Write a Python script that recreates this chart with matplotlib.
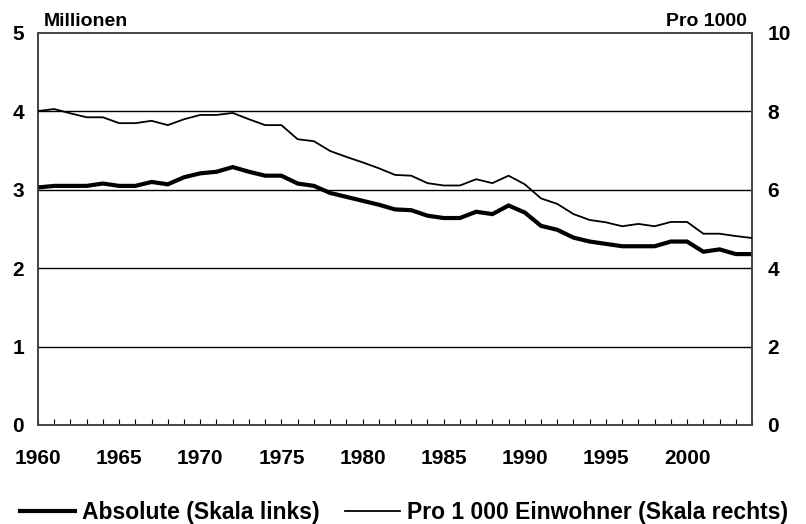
import numpy as np
import matplotlib
matplotlib.use('Agg')
import matplotlib.pyplot as plt

plt.rcParams['font.family'] = ['Liberation Sans', 'DejaVu Sans']
plt.rcParams['font.weight'] = 'bold'

years = list(range(1960, 2005))

# Absolute (Millionen, left scale)
absolute = [3.03, 3.05, 3.05, 3.05, 3.08, 3.05, 3.05, 3.10, 3.07, 3.16,
            3.21, 3.23, 3.29, 3.23, 3.18, 3.18, 3.08, 3.05, 2.96, 2.91,
            2.86, 2.81, 2.75, 2.74, 2.67, 2.64, 2.64, 2.72, 2.69, 2.80,
            2.71, 2.54, 2.49, 2.39, 2.34, 2.31, 2.28, 2.28, 2.28, 2.34,
            2.34, 2.21, 2.24, 2.18, 2.18]

# Pro 1000 Einwohner (right scale)
per_1000 = [8.01, 8.06, 7.95, 7.85, 7.85, 7.70, 7.70, 7.76, 7.65, 7.80,
            7.91, 7.91, 7.96, 7.80, 7.65, 7.65, 7.29, 7.24, 6.99, 6.84,
            6.70, 6.55, 6.38, 6.36, 6.17, 6.11, 6.11, 6.27, 6.17, 6.36,
            6.14, 5.78, 5.64, 5.38, 5.23, 5.17, 5.07, 5.13, 5.07, 5.18,
            5.18, 4.88, 4.88, 4.82, 4.77]

xlabels = [1960, 1965, 1970, 1975, 1980, 1985, 1990, 1995, 2000]

fig = plt.figure(figsize=(8.06, 5.24), dpi=100)
ax = fig.add_axes([38/806, 1-425/524, (752-38)/806, (425-33)/524])
ax2 = ax.twinx()

ax.set_xlim(1960, 2004)
ax.set_ylim(0, 5)
ax2.set_ylim(0, 10)

for v in [1, 2, 3, 4]:
    ax.axhline(v, color='black', lw=1, zorder=1)

l1, = ax.plot(years, absolute, color='black', lw=3.0, solid_joinstyle='miter', zorder=3)
l2, = ax2.plot(years, per_1000, color='black', lw=1.3, zorder=3)

fs = 15
ax.set_yticks([0, 1, 2, 3, 4, 5])
ax.set_yticklabels(['0', '1', '2', '3', '4', '5'], fontsize=fs, fontweight='bold')
ax2.set_yticks([0, 2, 4, 6, 8, 10])
ax2.set_yticklabels(['0', '2', '4', '6', '8', '10'], fontsize=fs, fontweight='bold')
ax.tick_params(axis='y', length=0, pad=10)
ax2.tick_params(axis='y', length=0, pad=11)

ax.set_xticks(xlabels)
ax.set_xticklabels([str(x) for x in xlabels], fontsize=fs, fontweight='bold')
ax.set_xticks(years, minor=True)
ax.tick_params(axis='x', which='both', direction='in', length=4, width=0.8, pad=17)

for a in (ax, ax2):
    for s in a.spines.values():
        s.set_color('#444444')
        s.set_linewidth(1.2)

fig.text(44/806, 1-21/524, 'Millionen', fontsize=14, fontweight='bold', ha='left', va='center')
fig.text(747/806, 1-21/524, 'Pro 1000', fontsize=14, fontweight='bold', ha='right', va='center')

fig.legend([l1, l2], ['Absolute (Skala links)', 'Pro 1 000 Einwohner (Skala rechts)'],
           loc='center left', bbox_to_anchor=(20/806, 1-513/524), ncol=2, frameon=False,
           prop={'size': 16.5, 'weight': 'bold'}, handlelength=2.4, handletextpad=0.3,
           columnspacing=1.1, borderpad=0, borderaxespad=0)

fig.savefig('out.png', dpi=100)
